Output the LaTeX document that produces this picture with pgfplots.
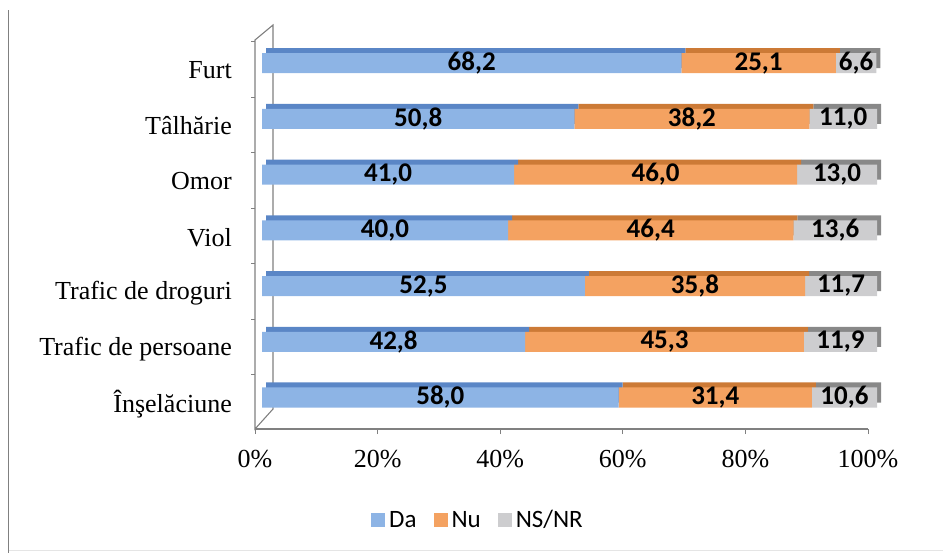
\documentclass[border=0pt]{standalone}
\usepackage{pgfplots}
\pgfplotsset{compat=1.18}
\usepackage{pgfplotstable}
\usepackage{fontspec}
\setmainfont{Liberation Serif}
\newfontfamily\calfont{Carlito}
\definecolor{daF}{HTML}{8DB4E5}
\definecolor{daT}{HTML}{5A86C6}
\definecolor{nuF}{HTML}{F4A261}
\definecolor{nuT}{HTML}{CC7A36}
\definecolor{nsF}{HTML}{CDCDCF}
\definecolor{nsT}{HTML}{888888}
\definecolor{axgray}{HTML}{808080}

\pgfplotstableread{
pos da nu ns
6 68.2 25.1 6.6
5 50.8 38.2 11.0
4 41.0 46.0 13.0
3 40.0 46.4 13.6
2 52.5 35.8 11.7
1 42.8 45.3 11.9
0 58.0 31.4 10.6
}\crimes

\pgfplotsset{
  barbase/.style={
    xbar stacked, bar width=20bp, scale only axis,
    width=615bp, height=403.9bp,
    xmin=0, xmax=100, ymin=-0.565, ymax=6.68,
    hide axis, clip=false, anchor=south west,
  }
}
\begin{document}
\begin{tikzpicture}
\path[use as bounding box] (0,0) rectangle (943bp,553bp);
\draw[color=axgray, line width=1.5bp] (8.5bp,0) -- (8.5bp,543bp);
\draw[color=black!10, line width=1bp] (9bp,2bp) -- (943bp,2bp);
% wall
\draw[axgray, line width=1.1bp] (255bp,124bp) -- (255bp,513bp) -- (273bp,528bp) -- (273bp,144bp) -- cycle;
\foreach \t in {0,...,6} {
  \pgfmathsetmacro\yy{178+55.55*\t}
  \draw[axgray, line width=1bp] (251bp,\yy bp) -- (255bp,\yy bp);
}
% shadow (top/side faces)
\begin{axis}[barbase, at={(266bp,129bp)}]
\addplot[fill=daT, draw=none] table[x=da,y=pos]{\crimes};
\addplot[fill=nuT, draw=none] table[x=nu,y=pos]{\crimes};
\addplot[fill=nsT, draw=none] table[x=ns,y=pos]{\crimes};
\end{axis}
% front faces
\begin{axis}[barbase, at={(262bp,124bp)}, point meta=explicit,
  nodes near coords={\pgfmathprintnumber[fixed,fixed zerofill,precision=1,use comma,assume math mode=true]{\pgfplotspointmeta}},
  every node near coord/.append style={anchor=center, font=\calfont\bfseries\fontsize{27bp}{30bp}\selectfont, text=black, inner sep=0pt},
]
\addplot[fill=daF, draw=none] table[x=da,y=pos,meta=da]{\crimes};
\addplot[fill=nuF, draw=none] table[x=nu,y=pos,meta=nu]{\crimes};
\addplot[fill=nsF, draw=none] table[x=ns,y=pos,meta=ns]{\crimes};
\end{axis}
% axis with labels and legend
\begin{axis}[scale only axis, width=613bp, height=403.9bp, anchor=south west, at={(255bp,124bp)},
 xmin=0, xmax=100, ymin=-0.565, ymax=6.68,
 axis x line*=bottom, axis y line*=left, y axis line style={draw=none},
 x axis line style={axgray, line width=1.1bp, -},
 xtick={0,20,...,100}, xticklabels={0\%,20\%,40\%,60\%,80\%,100\%},
 tick align=outside, major tick length=5bp,
 xtick style={axgray, line width=1bp}, ytick style={draw=none},
 ytick={0,...,6},
 yticklabels={Înşelăciune,Trafic de persoane,Trafic de droguri,Viol,Omor,Tâlhărie,Furt},
 yticklabel style={font=\fontsize{26bp}{30bp}\selectfont, inner sep=0pt, xshift=-18bp, yshift=-7bp},
 xticklabel style={font=\fontsize{26bp}{30bp}\selectfont, inner sep=0pt, yshift=-16bp},
 legend image code/.code={\fill[#1] (0bp,-7bp) rectangle (14bp,7bp);},
 legend style={at={(0.1892,-0.2253)}, anchor=west, draw=none, fill=none, inner sep=0pt,
   legend columns=-1, font=\calfont\fontsize{25bp}{29bp}\selectfont,
   /tikz/every even column/.append style={column sep=13bp}, nodes={inner sep=4bp}},
]
\addlegendimage{fill=daF, draw=none}
\addlegendimage{fill=nuF, draw=none}
\addlegendimage{fill=nsF, draw=none}
\legend{Da,Nu,NS/NR}
\end{axis}
\end{tikzpicture}
\end{document}
